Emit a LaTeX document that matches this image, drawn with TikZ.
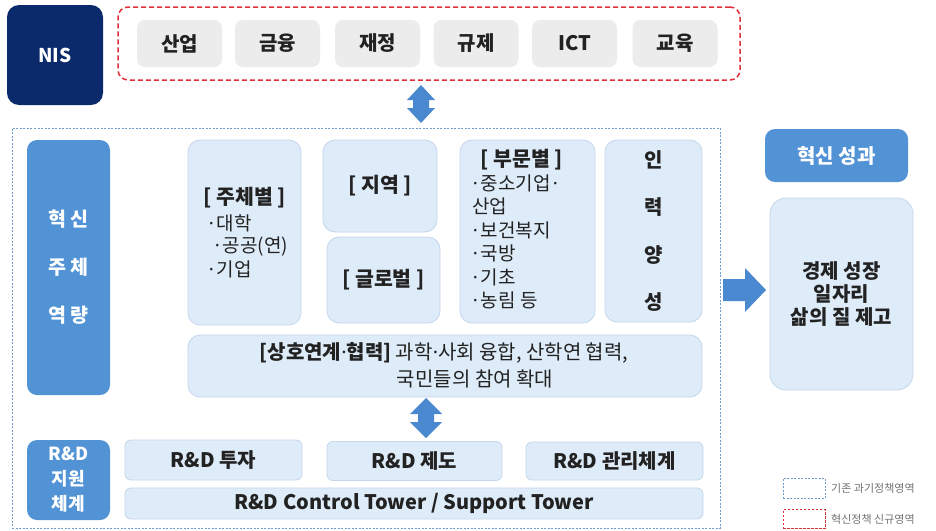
\documentclass[tikz,border=0pt]{standalone}
\usepackage{fontspec}
\setmainfont{Noto Sans CJK KR}
\newfontfamily\latdotfont{Noto Sans}
\newcommand\tdot{{\latdotfont ·}}
\newcommand\fsz[2]{\fontsize{#1}{#2}\selectfont}
\definecolor{lb}{HTML}{DEEBF8}
\definecolor{lbd}{HTML}{C5D7EC}
\definecolor{gbg}{HTML}{ECECEC}
\definecolor{bl}{HTML}{5293D6}
\definecolor{navy}{HTML}{0B2A6B}
\definecolor{rdash}{HTML}{E0303A}
\definecolor{bdash}{HTML}{6E9CCF}
\definecolor{txt}{HTML}{222222}
\definecolor{arr}{HTML}{4A88CF}
\begin{document}
\begin{tikzpicture}[x=1pt,y=-1pt,
  box/.style={rectangle, inner sep=0pt, outer sep=0pt},
  lbox/.style={box, draw=lbd, fill=lb, rounded corners=12pt, line width=0.8pt},
  gbox/.style={box, fill=gbg, rounded corners=8pt, text=txt, font=\fsz{20}{22}\bfseries},
  bbox/.style={box, fill=bl, rounded corners=10pt, text=white, font=\fsz{20}{24}\bfseries, align=center},
  rdbox/.style={box, fill=lb, draw=lbd, rounded corners=6pt, line width=0.8pt, text=txt, font=\fsz{20}{22}\bfseries},
  hd/.style={text=txt, font=\fsz{20.5}{23}\bfseries, inner sep=0pt},
  it/.style={text=txt, font=\fsz{19}{23}, inner sep=0pt, anchor=west},
  arrowfill/.style={fill=arr, draw=none},
  legtxt/.style={text=black!55, font=\fsz{11}{12}, anchor=west, inner sep=0pt}
]
\useasboundingbox (0,0) rectangle (936,530);
\fill[white] (0,0) rectangle (936,530);

% top row
\node[box, fill=navy, rounded corners=12pt, minimum width=96pt, minimum height=100pt, text=white, font=\fsz{19}{22}\bfseries] (nis) at (55,55) {NIS};
\node[box, draw=rdash, line width=1.5pt, dash pattern=on 5pt off 3pt, rounded corners=10pt, minimum width=622pt, minimum height=73pt] (red) at (429,43.5) {};
\node[gbox, minimum width=85pt, minimum height=47pt] (g1) at (179.5,43.5) {산업};
\node[gbox, minimum width=85pt, minimum height=47pt] (g2) at (277.5,43.5) {금융};
\node[gbox, minimum width=85pt, minimum height=47pt] (g3) at (377.5,43.5) {재정};
\node[gbox, minimum width=85pt, minimum height=47pt] (g4) at (476,43.5) {규제};
\node[gbox, minimum width=85pt, minimum height=47pt] (g5) at (574.5,43.5) {ICT};
\node[gbox, minimum width=85pt, minimum height=47pt] (g6) at (675,43.5) {교육};

% double arrow top
\fill[arrowfill] (421,85) -- (435,100) -- (429,100) -- (429,108) -- (435,108) -- (421,123) -- (407,108) -- (413,108) -- (413,100) -- (407,100) -- cycle;

% container
\node[box, draw=bdash, line width=1pt, dash pattern=on 2pt off 1.5pt, minimum width=708pt, minimum height=400pt] (cont) at (366,328) {};

% left blue labels
\node[bbox, minimum width=83pt, minimum height=255pt, font=\fsz{19.5}{48}\bfseries] (hs) at (68.5,267.5) {혁 신\\주 체\\역 량};
\node[bbox, minimum width=83pt, minimum height=80pt, font=\fsz{18}{25}\bfseries] (rd) at (68.5,480) {R\&D\\지원\\체계};

% capability boxes
\node[lbox, minimum width=113pt, minimum height=185pt] (jc) at (244.5,232.5) {};
\node[hd] (jch) at (245,198) {[ 주체별 ]};
\node[it] (jc1) at (206,223) {·대학};
\node[it] (jc2) at (212,247) {·공공(연)};
\node[it] (jc3) at (206,269) {·기업};

\node[lbox, minimum width=114pt, minimum height=92pt] (jy) at (380,186) {};
\node[hd] at (jy) {[ 지역 ]};
\node[lbox, minimum width=113pt, minimum height=86pt] (gl) at (383.5,280) {};
\node[hd] at (gl) {[ 글로벌 ]};

\node[lbox, minimum width=135pt, minimum height=183pt] (bm) at (527.5,231.5) {};
\node[hd] (bmh) at (522,160) {[ 부문별 ]};
\node[it] (bm1) at (470,183) {·중소기업·};
\node[it] (bm2) at (472,206) {산업};
\node[it] (bm3) at (470,230) {·보건복지};
\node[it] (bm4) at (470,253) {·국방};
\node[it] (bm5) at (470,277) {·기초};
\node[it] (bm6) at (470,300) {·농림 등};

\node[lbox, minimum width=97pt, minimum height=182pt, text=txt, font=\fsz{20}{47.5}\bfseries, align=center] (ir) at (653.5,231) {인\\력\\양\\성};

\node[lbox, minimum width=514pt, minimum height=62pt] (sh) at (445,366) {};
\node[text=txt, font=\fsz{20}{22}, inner sep=0pt] (sh1) at (444,353) {\textbf{[상호연계\tdot 협력]} 과학\tdot 사회 융합, 산학연 협력,};
\node[text=txt, font=\fsz{20}{22}, inner sep=0pt] (sh2) at (475,379) {국민들의 참여 확대};

% double arrow middle
\fill[arrowfill] (426,398) -- (442,414) -- (434,414) -- (434,422) -- (442,422) -- (426,438) -- (410,422) -- (418,422) -- (418,414) -- (410,414) -- cycle;

% R&D row
\node[rdbox, minimum width=177pt, minimum height=40pt] (r1) at (213.5,460) {R\&D 투자};
\node[rdbox, minimum width=175pt, minimum height=39pt] (r2) at (414.5,461) {R\&D 제도};
\node[rdbox, minimum width=177pt, minimum height=38pt] (r3) at (614.5,461) {R\&D 관리체계};
\node[rdbox, minimum width=578pt, minimum height=31pt, font=\fsz{20}{22}\bfseries] (ct) at (414,503.5) {R\&D Control Tower / Support Tower};

% right side
\fill[arrowfill] (723,279) -- (745,279) -- (745,268) -- (766,290) -- (745,312) -- (745,301) -- (723,301) -- cycle;
\node[bbox, minimum width=143pt, minimum height=53pt, font=\fsz{20}{22}\bfseries] (ho) at (836.5,155.5) {혁신 성과};
\node[lbox, minimum width=143pt, minimum height=192pt, rounded corners=16pt, text=txt, font=\fsz{20}{23}\bfseries, align=center] (ks) at (841.5,294) {경제 성장\\일자리\\삶의 질 제고};

% legend
\node[box, draw=bdash, line width=0.8pt, dash pattern=on 2pt off 1.5pt, minimum width=42pt, minimum height=20pt] (lg1) at (804,488) {};
\node[legtxt] at (831,488) {기존 과기정책영역};
\node[box, draw=rdash, line width=0.8pt, dash pattern=on 2.5pt off 1.5pt, minimum width=42pt, minimum height=19pt] (lg2) at (804,519) {};
\node[legtxt] at (831,519) {혁신정책 신규영역};
\end{tikzpicture}
\end{document}
